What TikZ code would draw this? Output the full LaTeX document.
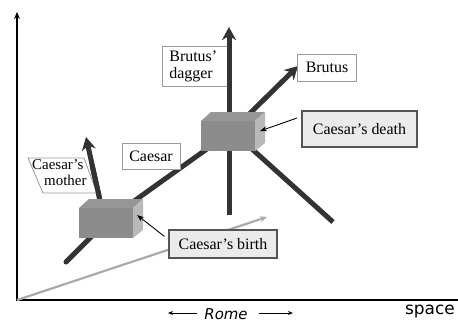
\documentclass[tikz,border=0pt]{standalone}
\usepackage{fontspec}
\setmainfont{Liberation Serif}
\newfontfamily\axisfont{DejaVu Sans}
\usetikzlibrary{arrows.meta}

\definecolor{lineDark}{HTML}{333333}
\definecolor{faceFront}{HTML}{8C8C8C}
\definecolor{faceTop}{HTML}{969696}
\definecolor{faceSide}{HTML}{B9B9B9}
\definecolor{tagFill}{HTML}{EBEBEB}
\definecolor{tagEdge}{HTML}{555555}
\definecolor{labelEdge}{HTML}{9A9A9A}
\definecolor{pathGray}{HTML}{AAAAAA}

\tikzset{
  worldline/.style={line width=5bp, draw=lineDark, line cap=round},
  worldarrow/.style={worldline, line cap=butt, -{Stealth[length=13bp,width=14bp,inset=4bp]}},
  axisline/.style={line width=2.5bp, draw=black},
  pointer/.style={line width=0.9bp, draw=black, -{Stealth[length=7bp,width=5bp]}},
  plainlabel/.style={draw=labelEdge, fill=white, line width=0.8bp, font=\fontsize{16}{17}\selectfont, inner sep=0pt},
  eventtag/.style={draw=tagEdge, fill=tagFill, line width=1.2bp, font=\fontsize{16}{17}\selectfont, inner sep=0pt},
  block/.pic={
    % front face, top face and right face of a small cuboid
    \fill[faceFront] (0,0) rectangle (54,30);
    \fill[faceTop] (0,0) -- (10,-9) -- (64,-9) -- (54,0) -- cycle;
    \fill[faceSide] (54,0) -- (64,-9) -- (64,22) -- (54,30) -- cycle;
  }
}

\begin{document}
\begin{tikzpicture}[x=1bp, y=-1bp]
\useasboundingbox (0,0) rectangle (458,322);

% axes
\coordinate (origin) at (17,300);
\coordinate (timetop) at (17,12);
\coordinate (spaceend) at (458,300);
\draw[axisline] (15.75,300) -- (spaceend);
\draw[axisline, -{Stealth[length=7bp,width=6bp]}] (17,301.25) -- (timetop);

% light-ray style gray line from the origin
\coordinate (grayend) at (267,217);
\draw[line width=2.2bp, draw=pathGray, -{Stealth[length=7bp,width=6bp]}] (origin) -- (grayend);

% events
\coordinate (birthbox) at (79,208);
\coordinate (deathbox) at (201,121);
\coordinate (birthmid) at (109,219);
\coordinate (deathmid) at (232,131);

% Caesar's worldline and the branches
\coordinate (caesarstart) at (66,262);
\coordinate (motherend) at (86,137);
\coordinate (daggerbottom) at (229,215);
\coordinate (daggertop) at (229,27);
\coordinate (brutusend) at (298,66);
\coordinate (afterend) at (333,222);

\draw[worldline] (caesarstart) -- (birthmid);
\draw[worldline] (birthmid) -- (deathmid);
\draw[worldline, line cap=butt] (deathmid) -- (afterend);
\draw[worldarrow] (103,214) -- (motherend);
\draw[worldline, line cap=butt] (daggerbottom) -- (229,90);
\draw[worldarrow] (deathmid) -- (brutusend);

% white labels
\node[plainlabel, text width=54bp, inner xsep=7bp, minimum height=40bp, align=left, anchor=north west] (dagger) at (162,46) {Brutus'\\dagger};
\draw[worldarrow] (229,90) -- (daggertop);
\node[plainlabel, minimum width=59bp, minimum height=27bp] (brutus) at (327,67.5) {Brutus};
\node[plainlabel, minimum width=58bp, minimum height=26bp] (caesar) at (151,156) {Caesar};

% slanted label for the mother
\path[draw=labelEdge, fill=white, line width=0.8bp] (28,158) -- (84,158) -- (97,193) -- (43,193) -- cycle;
\node[font=\fontsize{15}{16}\selectfont, align=left, inner sep=0pt, anchor=north west] (mother) at (32,159.5) {Caesar's\\\hspace*{12bp}mother};
\draw[worldline, line cap=butt] (99.5,198) -- (92,165);

% cuboids for the two events
\pic at (birthbox) {block};
\pic at (deathbox) {block};

% event tags with pointers
\node[eventtag, minimum width=115bp, minimum height=36bp] (death) at (359.5,129) {Caesar's death};
\node[eventtag, minimum width=108bp, minimum height=28bp] (birth) at (223,244) {Caesar's birth};
\coordinate (deathface) at (260,131);
\coordinate (birthface) at (137,215);
\draw[pointer] (297,118) -- (deathface);
\draw[pointer] (birth.north west) ++(-4,7) -- (birthface);

% axis names
\node[font=\axisfont\fontsize{17}{18}\selectfont, inner sep=0pt] (space) at (430,312) {space};
\node[font=\axisfont\itshape\fontsize{15}{16}\selectfont, inner sep=0pt] (rome) at (226,314) {Rome};
\coordinate (romeleft) at (168,313);
\coordinate (romeright) at (293,313);
\draw[line width=1bp, -{Stealth[length=5bp,width=4bp]}] ([xshift=-7bp]rome.west |- romeleft) -- (romeleft);
\draw[line width=1bp, -{Stealth[length=5bp,width=4bp]}] ([xshift=11bp]rome.east |- romeright) -- (romeright);
\end{tikzpicture}
\end{document}
